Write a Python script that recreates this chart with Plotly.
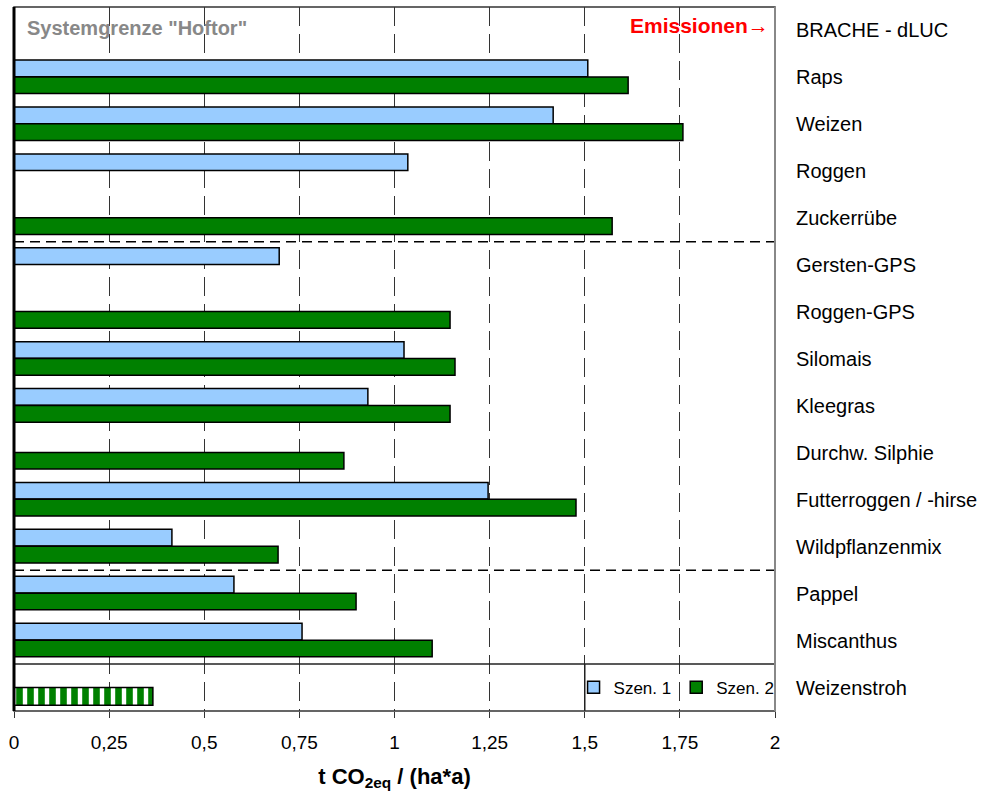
import plotly.graph_objects as go

# datos
kategorien = ['BRACHE - dLUC', 'Raps', 'Weizen', 'Roggen', 'Zuckerrübe', 'Gersten-GPS',
              'Roggen-GPS', 'Silomais', 'Kleegras', 'Durchw. Silphie',
              'Futterroggen / -hirse', 'Wildpflanzenmix', 'Pappel', 'Miscanthus', 'Weizenstroh']
szen1 = [None, 1.508, 1.417, 1.035, None, 0.697, None, 1.025, 0.930, None, 1.246, 0.415,
         0.578, 0.757, None]
szen2 = [None, 1.614, 1.758, None, 1.572, None, 1.146, 1.159, 1.146, 0.867, 1.477, 0.694,
         0.899, 1.099, None]
stroh_kat = ['Weizenstroh']
stroh_wert = [0.365]
x_ticks = [0, 0.25, 0.5, 0.75, 1, 1.25, 1.5, 1.75, 2]

fig = go.Figure()

fig.add_trace(go.Bar(y=kategorien, x=szen1, orientation='h', name='Szen. 1',
                     marker=dict(color='#99CCFF', line=dict(color='black', width=1.5)),
                     offset=-0.37, width=0.355))
fig.add_trace(go.Bar(y=kategorien, x=szen2, orientation='h', name='Szen. 2',
                     marker=dict(color='#008000', line=dict(color='black', width=1.5)),
                     offset=-0.01, width=0.355))
# Weizenstroh rayado
fig.add_trace(go.Bar(y=stroh_kat, x=stroh_wert, orientation='h', showlegend=False,
                     marker=dict(color='white', line=dict(color='black', width=1.5),
                                 pattern=dict(shape='|', fgcolor='#008000', fgopacity=1,
                                              size=11, solidity=0.6, fillmode='replace')),
                     offset=0.0, width=0.38))

# líneas separadoras
for yy in [4.5, 11.5]:
    fig.add_shape(type='line', xref='x', yref='y', x0=0, x1=2, y0=yy, y1=yy,
                  line=dict(color='black', width=1.5, dash='10px,6px'), layer='above')
fig.add_shape(type='line', xref='x', yref='y', x0=0, x1=2, y0=13.5, y1=13.5,
              line=dict(color='#222', width=1.5), layer='above')
# caja de la leyenda
fig.add_shape(type='line', xref='x', yref='y', x0=1.5, x1=1.5, y0=13.5, y1=14.5,
              line=dict(color='#222', width=1.5), layer='above')
# bordes
fig.add_shape(type='rect', xref='paper', yref='paper', x0=0, x1=1, y0=0, y1=1,
              line=dict(color='#333', width=1.5))
fig.add_shape(type='line', xref='paper', yref='paper', x0=1, x1=1, y0=0, y1=1,
              line=dict(color='#888', width=2))
fig.add_shape(type='line', xref='paper', yref='paper', x0=0, x1=0, y0=0, y1=1,
              line=dict(color='black', width=3), layer='above')

fig.add_annotation(x=0.03, y=0, xref='x', yref='y', text='<b>Systemgrenze "Hoftor"</b>',
                   showarrow=False, xanchor='left', yshift=2,
                   font=dict(color='#888888', size=20))
fig.add_annotation(x=1.99, y=0, xref='x', yref='y', text='<b>Emissionen→</b>',
                   showarrow=False, xanchor='right', yshift=5,
                   font=dict(color='#FF0000', size=21))

fig.update_layout(
    width=989, height=800,
    margin=dict(l=14, r=214, t=7, b=89, autoexpand=False),
    barmode='overlay',
    separators=',.',
    plot_bgcolor='white', paper_bgcolor='white',
    font=dict(family='Liberation Sans, Arial', size=20, color='black'),
    legend=dict(orientation='h', x=1.006, xanchor='right', y=0.033, yanchor='middle',
                bgcolor='rgba(0,0,0,0)', font=dict(size=17), itemwidth=30,
                tracegroupgap=0),
)
fig.update_xaxes(range=[0, 2], tickvals=x_ticks, showgrid=True, gridcolor='#333',
                 griddash='19px,8px', gridwidth=1, zeroline=False,
                 ticks='outside', ticklen=6, tickcolor='#333', tickfont=dict(size=19),
                 ticklabelstandoff=8,
                 title=dict(text='<b>t CO<sub>2eq</sub> / (ha*a)</b>', font=dict(size=22),
                            standoff=16))
fig.update_yaxes(categoryorder='array', categoryarray=kategorien, range=[14.5, -0.5],
                 side='right', showgrid=False, zeroline=False, ticks='',
                 ticklabelstandoff=20)

# sin margen del body para que la figura empiece en (0,0)
fig.write_html('out.html', config={'displayModeBar': False},
               post_script="document.body.style.margin='0';")
